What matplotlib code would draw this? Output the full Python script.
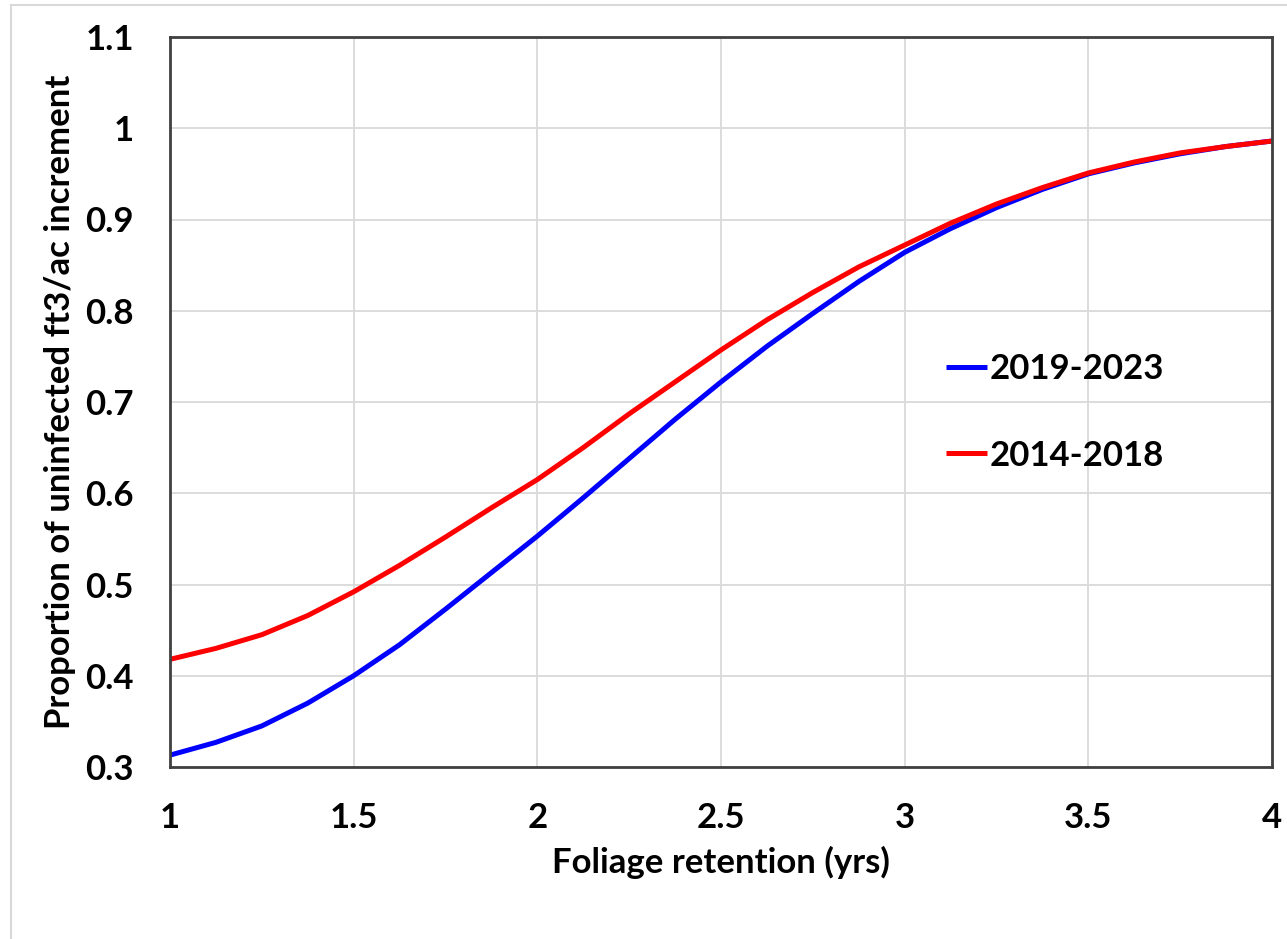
import matplotlib
matplotlib.use("Agg")
import matplotlib.pyplot as plt
from matplotlib.lines import Line2D

# Foliage retention (years)
retention = [1.0, 1.125, 1.25, 1.375, 1.5, 1.625, 1.75, 1.875, 2.0, 2.125, 2.25,
             2.375, 2.5, 2.625, 2.75, 2.875, 3.0, 3.125, 3.25, 3.375, 3.5,
             3.625, 3.75, 3.875, 4.0]

# Proportion of uninfected ft3/ac increment, by period
prop_2019_2023 = [0.313, 0.327, 0.345, 0.370, 0.400, 0.434, 0.473, 0.513, 0.553,
                  0.595, 0.638, 0.681, 0.722, 0.761, 0.797, 0.832, 0.864, 0.890,
                  0.913, 0.933, 0.950, 0.962, 0.972, 0.980, 0.986]
prop_2014_2018 = [0.418, 0.430, 0.445, 0.466, 0.492, 0.521, 0.552, 0.584, 0.615,
                  0.650, 0.687, 0.722, 0.757, 0.790, 0.820, 0.848, 0.872, 0.896,
                  0.917, 0.935, 0.951, 0.963, 0.973, 0.980, 0.986]

series_labels = ["2019-2023", "2014-2018"]
series_colors = ["#0000ff", "#ff0000"]

x_ticks = [1, 1.5, 2, 2.5, 3, 3.5, 4]
x_tick_labels = ["1", "1.5", "2", "2.5", "3", "3.5", "4"]
y_ticks = [0.3, 0.4, 0.5, 0.6, 0.7, 0.8, 0.9, 1.0, 1.1]
y_tick_labels = ["0.3", "0.4", "0.5", "0.6", "0.7", "0.8", "0.9", "1", "1.1"]

plt.rcParams["font.family"] = ["Lato", "DejaVu Sans"]
plt.rcParams["font.weight"] = "bold"

FS = 25
W, H = 1287, 939
fig = plt.figure(figsize=(W / 100, H / 100), dpi=100)
fig.patch.set_facecolor("white")

# light outer frame (top and left edges)
fig.add_artist(Line2D([11 / W, 1.0], [1 - 5 / H, 1 - 5 / H], transform=fig.transFigure,
                      color="#d9d9d9", lw=1.5))
fig.add_artist(Line2D([11 / W, 11 / W], [0.0, 1 - 5 / H], transform=fig.transFigure,
                      color="#d9d9d9", lw=1.5))

left, right, top, bottom = 170, 1272, 37, 767
aw, ah = right - left, bottom - top
ax = fig.add_axes([left / W, 1 - bottom / H, aw / W, ah / H])

ax.plot(retention, prop_2019_2023, color=series_colors[0], lw=3.6,
        label=series_labels[0], solid_capstyle="butt", solid_joinstyle="round")
ax.plot(retention, prop_2014_2018, color=series_colors[1], lw=3.6,
        label=series_labels[1], solid_capstyle="butt", solid_joinstyle="round")

ax.set_xlim(1, 4)
ax.set_ylim(0.3, 1.1)
ax.set_xticks(x_ticks)
ax.set_xticklabels(x_tick_labels)
ax.set_yticks(y_ticks)
ax.set_yticklabels(y_tick_labels)
ax.tick_params(axis="both", length=0, labelsize=FS)
ax.tick_params(axis="x", pad=25)
ax.tick_params(axis="y", pad=26)
for lab in ax.get_xticklabels() + ax.get_yticklabels():
    lab.set_fontweight("bold")

ax.grid(True, color="#d9d9d9", lw=1.3)
ax.set_axisbelow(True)
for sp in ax.spines.values():
    sp.set_color("#404040")
    sp.set_linewidth(2)

ax.set_xlabel("Foliage retention (yrs)", fontsize=FS, fontweight="bold")
ax.set_ylabel("Proportion of uninfected ft3/ac increment", fontsize=FS,
              fontweight="bold")
ax.xaxis.set_label_coords(0.5, -(846 - bottom) / ah)
ax.yaxis.set_label_coords((76 - left) / aw, 0.5)

leg = ax.legend(loc="upper left",
                bbox_to_anchor=((946 - left) / aw, 1 - (353 - top) / ah),
                frameon=False, fontsize=FS, handlelength=1.18, handletextpad=0.09,
                labelspacing=1.57, borderaxespad=0, borderpad=0)
for t in leg.get_texts():
    t.set_fontweight("bold")

fig.savefig("out.png", dpi=100, facecolor="white")
